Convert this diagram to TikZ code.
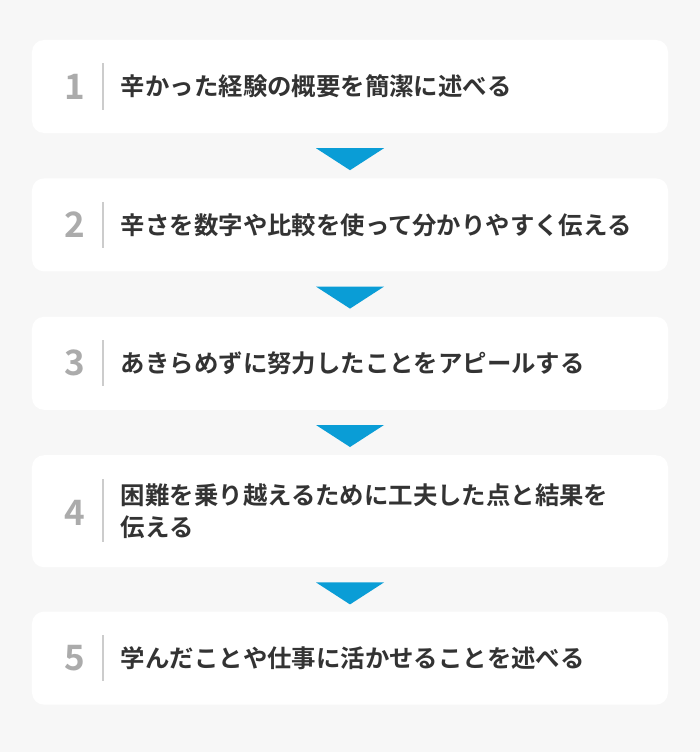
\documentclass[tikz,border=0pt]{standalone}
\usepackage{fontspec}
\usepackage{tikz}
\usetikzlibrary{positioning}
\newfontfamily\jpfont{Noto Sans CJK JP}[BoldFont={* Bold}]
\definecolor{pagebg}{HTML}{F7F7F7}
\definecolor{numgray}{HTML}{ABABAB}
\definecolor{sepgray}{HTML}{CCCCCC}
\definecolor{textdark}{HTML}{333333}
\definecolor{flowblue}{HTML}{0A9DD6}

\begin{document}
\begin{tikzpicture}[x=1bp, y=-1bp,
  stepbox/.style={fill=white, rounded corners=12bp, minimum width=636bp, minimum height=93bp, inner sep=0pt},
  numlabel/.style={text=numgray, font=\jpfont\bfseries\fontsize{35bp}{35bp}\selectfont, inner sep=0pt},
  steptext/.style={anchor=west, text=textdark, align=left, font=\jpfont\bfseries\fontsize{24.4bp}{32bp}\selectfont, inner sep=0pt},
  sepline/.style={draw=sepgray, line width=1.5bp},
  downtri/.style={fill=flowblue}]

\fill[pagebg] (0,0) rectangle (700,752);
\useasboundingbox (0,0) rectangle (700,752);

% boxes
\node[stepbox] (b1) at (350,86.5) {};
\node[stepbox, below=45bp of b1] (b2) {};
\node[stepbox, below=45bp of b2] (b3) {};
\node[stepbox, below=45bp of b3, minimum height=112bp] (b4) {};
\node[stepbox, below=44bp of b4] (b5) {};

% step 1
\node[numlabel] (n1) at ([xshift=43bp]b1.west) {1};
\draw[sepline] ([xshift=71bp, yshift=23bp]b1.west) -- ([xshift=71bp, yshift=-23bp]b1.west);
\node[steptext] (s1) at ([xshift=89bp]b1.west) {辛かった経験の概要を簡潔に述べる};

% step 2
\node[numlabel] (n2) at ([xshift=43bp]b2.west) {2};
\draw[sepline] ([xshift=71bp, yshift=23bp]b2.west) -- ([xshift=71bp, yshift=-23bp]b2.west);
\node[steptext] (s2) at ([xshift=89bp]b2.west) {辛さを数字や比較を使って分かりやすく伝える};

% step 3
\node[numlabel] (n3) at ([xshift=43bp]b3.west) {3};
\draw[sepline] ([xshift=71bp, yshift=23bp]b3.west) -- ([xshift=71bp, yshift=-23bp]b3.west);
\node[steptext] (s3) at ([xshift=89bp]b3.west) {あきらめずに努力したことをアピールする};

% step 4
\node[numlabel] (n4) at ([xshift=43bp, yshift=-2bp]b4.west) {4};
\draw[sepline] ([xshift=71bp, yshift=32bp]b4.west) -- ([xshift=71bp, yshift=-31bp]b4.west);
\node[steptext] (s4) at ([xshift=89bp]b4.west) {困難を乗り越えるために工夫した点と結果を\\伝える};

% step 5
\node[numlabel] (n5) at ([xshift=43bp]b5.west) {5};
\draw[sepline] ([xshift=71bp, yshift=23bp]b5.west) -- ([xshift=71bp, yshift=-23bp]b5.west);
\node[steptext] (s5) at ([xshift=89bp]b5.west) {学んだことや仕事に活かせることを述べる};

% arrows between boxes
\coordinate[below=15bp of b1] (t1);
\coordinate[below=15bp of b2] (t2);
\coordinate[below=15bp of b3] (t3);
\coordinate[below=15bp of b4] (t4);
\fill[downtri] ([xshift=-34bp]t1) -- ([xshift=34bp]t1) -- ([yshift=-22bp]t1) -- cycle;
\fill[downtri] ([xshift=-34bp]t2) -- ([xshift=34bp]t2) -- ([yshift=-22bp]t2) -- cycle;
\fill[downtri] ([xshift=-34bp]t3) -- ([xshift=34bp]t3) -- ([yshift=-22bp]t3) -- cycle;
\fill[downtri] ([xshift=-34bp]t4) -- ([xshift=34bp]t4) -- ([yshift=-22bp]t4) -- cycle;
\end{tikzpicture}
\end{document}
